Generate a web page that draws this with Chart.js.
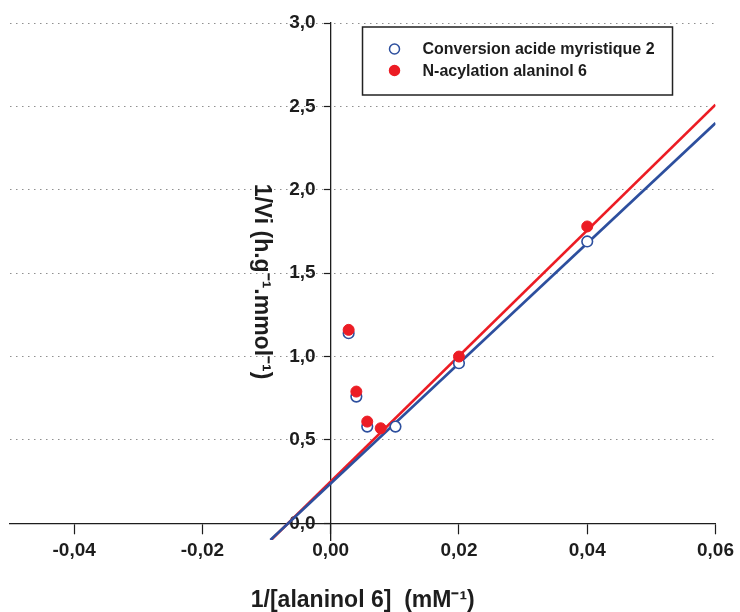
<!DOCTYPE html>
<html>
<head>
<meta charset="utf-8">
<script src="https://cdn.jsdelivr.net/npm/chart.js@4"></script>
<style>
html, body { margin: 0; padding: 0; background: #fff; }
</style>
</head>
<body>
<canvas id="myChart" width="740" height="612"></canvas>
<script>
var seriesNames = ['Conversion acide myristique 2', 'N-acylation alaninol 6'];

var acideX = [0.0028, 0.0040, 0.0057, 0.0101, 0.020, 0.040];
var acideY = [1.14, 0.76, 0.58, 0.58, 0.96, 1.69];
var alaninolX = [0.0028, 0.0040, 0.0057, 0.0078, 0.020, 0.040];
var alaninolY = [1.16, 0.79, 0.61, 0.57, 1.00, 1.78];

// fitted lines, end points
var acideFitX = [-0.0094, 0.060];
var acideFitY = [-0.10, 2.40];
var alaninolFitX = [-0.0093, 0.060];
var alaninolFitY = [-0.10, 2.51];

var xTicks = [-0.04, -0.02, 0, 0.02, 0.04, 0.06];
var yTicks = [0, 0.5, 1.0, 1.5, 2.0, 2.5, 3.0];

var BLUE = '#2d4f9e';
var RED = '#ec1c24';
var INK = '#1d1d1d';
var FAMILY = "'Liberation Sans', Arial, sans-serif";

function pts(xs, ys) {
    return xs.map(function (x, i) { return {x: x, y: ys[i]}; });
}

// boxed legend in the upper right, drawn on the canvas
var boxLegend = {
    id: 'boxLegend',
    afterDraw: function (chart) {
        var ctx = chart.ctx;
        var a = chart.chartArea;
        var bx = a.right - 353, by = a.top + 4, bw = 310, bh = 68;
        ctx.save();
        ctx.lineWidth = 1.5;
        ctx.strokeStyle = '#222';
        ctx.fillStyle = '#fff';
        ctx.fillRect(bx, by, bw, bh);
        ctx.strokeRect(bx, by, bw, bh);
        var marks = [
            {fill: '#fff', stroke: BLUE},
            {fill: RED, stroke: RED}
        ];
        ctx.font = 'bold 16px ' + FAMILY;
        ctx.textBaseline = 'middle';
        for (var i = 0; i < seriesNames.length; i++) {
            var cy = by + 22 + i * 21.5;
            ctx.beginPath();
            ctx.arc(bx + 32, cy, 5, 0, Math.PI * 2);
            ctx.fillStyle = marks[i].fill;
            ctx.fill();
            ctx.lineWidth = 1.5;
            ctx.strokeStyle = marks[i].stroke;
            ctx.stroke();
            ctx.fillStyle = INK;
            ctx.fillText(seriesNames[i], bx + 60, cy + 1);
        }
        ctx.restore();
    }
};

// a y axis placed at x = 0 puts its labels flush on the axis line;
// move them left past the tick marks
var yLabelShift = {
    id: 'yLabelShift',
    beforeDraw: function (chart) {
        var s = chart.scales.y;
        var items = s.getLabelItems(chart.chartArea);
        if (items._shifted) return;
        var d = s.options.grid.tickLength + s.options.ticks.padding;
        items.forEach(function (it) { it.options.translation[0] -= d; });
        items._shifted = true;
    }
};

var ctx = document.getElementById('myChart');

var myChart = new Chart(ctx, {
    type: 'scatter',
    data: {
        datasets: [
            {
                label: seriesNames[1],
                data: pts(alaninolX, alaninolY),
                pointRadius: 5.5,
                pointBackgroundColor: RED,
                pointBorderColor: RED,
                pointBorderWidth: 1,
                order: 1
            },
            {
                label: seriesNames[0],
                data: pts(acideX, acideY),
                pointRadius: 5.3,
                pointBackgroundColor: '#fff',
                pointBorderColor: BLUE,
                pointBorderWidth: 1.6,
                order: 2
            },
            {
                label: 'fit acide',
                data: pts(acideFitX, acideFitY),
                showLine: true,
                borderColor: BLUE,
                borderWidth: 2.6,
                pointRadius: 0,
                order: 3
            },
            {
                label: 'fit alaninol',
                data: pts(alaninolFitX, alaninolFitY),
                showLine: true,
                borderColor: RED,
                borderWidth: 2.6,
                pointRadius: 0,
                order: 4
            }
        ]
    },
    options: {
        responsive: false,
        maintainAspectRatio: false,
        animation: false,
        layout: { padding: { left: 10, right: 22, top: 23, bottom: 72 } },
        plugins: {
            legend: { display: false },
            tooltip: { enabled: false }
        },
        scales: {
            x: {
                type: 'linear',
                min: -0.05,
                max: 0.06,
                position: { y: 0 },
                afterBuildTicks: function (s) {
                    s.ticks = xTicks.map(function (v) { return {value: v}; });
                },
                ticks: {
                    autoSkip: false,
                    maxRotation: 0,
                    padding: 6,
                    color: INK,
                    font: { family: FAMILY, size: 19, weight: 'bold' },
                    callback: function (v) { return v.toFixed(2).replace('.', ','); }
                },
                grid: {
                    drawOnChartArea: false,
                    drawTicks: true,
                    tickLength: 10,
                    tickColor: INK,
                    tickWidth: 1.2,
                    tickBorderDash: []
                },
                border: { color: INK, width: 1.3 },
                title: {
                    display: true,
                    text: '1/[alaninol 6]  (mM⁻¹)',
                    color: INK,
                    font: { family: FAMILY, size: 23, weight: 'bold' },
                    padding: { top: 19, bottom: 0 }
                }
            },
            y: {
                type: 'linear',
                min: -0.1,
                max: 3.0,
                position: { x: 0 },
                afterBuildTicks: function (s) {
                    s.ticks = yTicks.map(function (v) { return {value: v}; });
                },
                ticks: {
                    padding: 9,
                    color: INK,
                    font: { family: FAMILY, size: 19, weight: 'bold' },
                    callback: function (v) { return v.toFixed(1).replace('.', ','); }
                },
                grid: {
                    drawOnChartArea: true,
                    color: function (c) {
                        return (c.tick && c.tick.value === 0) ? 'rgba(0,0,0,0)' : '#8f8f8f';
                    },
                    lineWidth: 1,
                    drawTicks: true,
                    tickLength: 6,
                    tickColor: INK,
                    tickWidth: 1.2,
                    tickBorderDash: []
                },
                border: { color: INK, width: 1.3, dash: [1.5, 4.5] },
                title: {
                    display: true,
                    text: '1/Vi (h.g⁻¹.mmol⁻¹)',
                    color: INK,
                    font: { family: FAMILY, size: 23, weight: 'bold' },
                    padding: { top: 5, bottom: 0 }
                }
            }
        }
    },
    plugins: [yLabelShift, boxLegend]
});
</script>
</body>
</html>
